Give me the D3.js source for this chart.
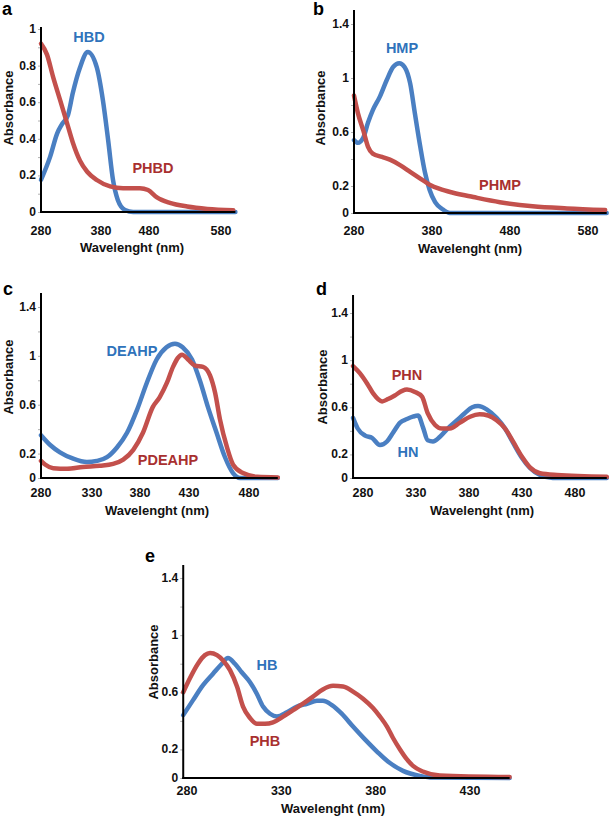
<!DOCTYPE html>
<html><head><meta charset="utf-8">
<script src="https://cdn.jsdelivr.net/npm/d3@7/dist/d3.min.js"></script>
<style>
body{margin:0;background:#fff;}
svg{display:block;font-family:"Liberation Sans",Arial,sans-serif;}
</style></head>
<body>
<svg id="chart" width="609" height="816"></svg>
<script>
// ---------- DATA ----------
// Panel a
const hbdX  = [280,295,307,315,325,333,345,358,373,384,395,405,415,430,447,480,600];
const hbdY  = [0.175,0.30,0.43,0.48,0.53,0.65,0.79,0.874,0.79,0.61,0.39,0.175,0.066,0.011,0,0,0];
const phbdX = [280,290,300,312,323,333,345,357,373,399,426,461,478,491,509,533,561,597];
const phbdY = [0.92,0.86,0.74,0.61,0.49,0.38,0.28,0.22,0.175,0.14,0.13,0.13,0.12,0.08,0.05,0.03,0.017,0.01];
// Panel b
const hmpX  = [280,285,292,298,304,313,322,330,338,345,352,358,365,371,377,384,393,403,500,604];
const hmpY  = [0.54,0.52,0.56,0.67,0.76,0.86,0.985,1.08,1.11,1.08,0.96,0.74,0.49,0.30,0.17,0.08,0.03,0,0,0];
const phmpX = [280,285,292,298,304,316,326,339,352,365,377,390,407,433,467,509,553,602];
const phmpY = [0.87,0.74,0.61,0.49,0.44,0.415,0.395,0.355,0.305,0.255,0.21,0.178,0.15,0.118,0.08,0.05,0.034,0.022];
// Panel c
const deahpX  = [280,289,298.6,311,325,335,345.6,356,366.5,377,387,397,407,415.7,423.5,432.5,439,445.8,453,460,466.7,472.5,504];
const deahpY  = [0.35,0.27,0.21,0.16,0.13,0.14,0.17,0.25,0.37,0.56,0.78,0.97,1.07,1.10,1.07,0.97,0.80,0.58,0.37,0.17,0.04,0,0];
const pdeahpX = [280,284,292,305.5,321,338,352,362.5,373,383,393,400,407.5,413.7,422.9,429,435,441.7,447.5,451.7,455.8,461.7,466.7,475,486.7,504];
const pdeahpY = [0.14,0.11,0.08,0.075,0.09,0.10,0.115,0.15,0.23,0.37,0.58,0.66,0.78,0.91,1.01,0.97,0.92,0.91,0.84,0.70,0.48,0.25,0.11,0.04,0.01,0.005];
// Panel d
const hnX  = [270.6,275,282,288.5,296,302.6,308,315,321.5,327,332,336.6,341,346,352.6,360,368.7,376,383,388.5,397,406,414,421.5,430,437.5,447,459,510];
const hnY  = [0.51,0.42,0.36,0.34,0.28,0.31,0.38,0.47,0.50,0.52,0.53,0.43,0.32,0.31,0.35,0.42,0.49,0.55,0.60,0.61,0.58,0.51,0.42,0.30,0.17,0.085,0.025,0,0];
const phnX = [270.6,277,284,289.4,298,303.6,310,317,321.5,329,335.7,341,348,354.5,362,371.5,381,390,398,406,414,421.5,430,437.5,447,463,510];
const phnY = [0.95,0.89,0.80,0.72,0.65,0.67,0.70,0.74,0.75,0.73,0.69,0.55,0.45,0.42,0.42,0.47,0.52,0.54,0.53,0.49,0.42,0.31,0.18,0.09,0.04,0.025,0.01];
// Panel e
const hbX  = [278,283.2,288.5,293.8,298.5,301.7,305.4,309,313.4,317,320.3,324,327.7,333,338.3,343.6,348.9,352,356.8,362,368,374.3,380.7,386.5,394.5,403.5,410.4,451];
const hbY  = [0.44,0.545,0.65,0.73,0.80,0.84,0.80,0.74,0.67,0.59,0.50,0.45,0.43,0.46,0.50,0.52,0.54,0.54,0.51,0.45,0.36,0.27,0.185,0.115,0.05,0.015,0.003,0];
const phbX = [278,281.6,285.8,289.5,292.2,295.9,299,302.8,306.5,309.7,313.4,317,321.3,325.6,330.9,336.2,341.5,346.8,352,357.4,362.7,368,373.3,378.6,382.3,386,389.2,392.9,396.6,399.8,405,414,451];
const phbY = [0.60,0.70,0.80,0.86,0.875,0.86,0.825,0.755,0.64,0.50,0.42,0.38,0.38,0.39,0.43,0.475,0.52,0.57,0.62,0.645,0.64,0.605,0.555,0.49,0.43,0.36,0.28,0.2,0.13,0.085,0.045,0.018,0.007];

// Tick labels
const xTicksA = [280,380,480,580];
const yTicksA = [0,0.2,0.4,0.6,0.8,1];
const xTicksB = [280,380,480,580];
const xTicksCD = [280,330,380,430,480];
const xTicksE = [280,330,380,430];
const yTicksBE = [0,0.2,0.6,1,1.4];

// ---------- LAYOUT ----------
const BLUE = "#4a7fc2", RED = "#c3504c", BLUE_T = "#2f73bb", RED_T = "#a8302f";
const svg = d3.select("#chart");

const panels = [
  {letter:"a", lx:2, ly:15,
   x:d3.scaleLinear().domain([280,380,480,580]).range([41,101,149,221]), xEnd:600, xStart:280,
   y:d3.scaleLinear().domain([0,1]).range([212,29]), yTop:27, yTicks:yTicksA, minor:0.1, yMax:1,
   xTicks:xTicksA, tickY:235, absX:8, absY:108, titleX:132, titleY:252,
   series:[{x:hbdX,y:hbdY,c:BLUE},{x:phbdX,y:phbdY,c:RED}],
   labels:[{t:"HBD",x:89,y:42,c:BLUE_T},{t:"PHBD",x:153,y:173,c:RED_T}]},
  {letter:"b", lx:313, ly:15,
   x:d3.scaleLinear().domain([280,580]).range([354,588]), xEnd:604, xStart:280,
   y:d3.scaleLinear().domain([0,1.4]).range([213,24]), yTop:10, yTicks:yTicksBE, minor:0.2, yMax:1.4,
   xTicks:xTicksB, tickY:235, absX:320, absY:108, titleX:470, titleY:253,
   series:[{x:hmpX,y:hmpY,c:BLUE},{x:phmpX,y:phmpY,c:RED}],
   labels:[{t:"HMP",x:402,y:53,c:BLUE_T},{t:"PHMP",x:500,y:190,c:RED_T}]},
  {letter:"c", lx:3, ly:295,
   x:d3.scaleLinear().domain([280,330,380,430,480]).range([41,92,140,189,249]), xEnd:504, xStart:280,
   y:d3.scaleLinear().domain([0,1.4]).range([478,307]), yTop:293, yTicks:yTicksBE, minor:0.2, yMax:1.4,
   xTicks:xTicksCD, tickY:497, absX:8, absY:377, titleX:157, titleY:515,
   series:[{x:deahpX,y:deahpY,c:BLUE},{x:pdeahpX,y:pdeahpY,c:RED}],
   labels:[{t:"DEAHP",x:132,y:356,c:BLUE_T},{t:"PDEAHP",x:168,y:465,c:RED_T}]},
  {letter:"d", lx:316, ly:295,
   x:d3.scaleLinear().domain([280,480]).range([363,575]), xEnd:510, xStart:270.6,
   y:d3.scaleLinear().domain([0,1.4]).range([478,313]), yTop:295, yTicks:yTicksBE, minor:0.2, yMax:1.4,
   xTicks:xTicksCD, tickY:497, absX:322, absY:387, titleX:482, titleY:515,
   series:[{x:hnX,y:hnY,c:BLUE},{x:phnX,y:phnY,c:RED}],
   labels:[{t:"PHN",x:407,y:380,c:RED_T},{t:"HN",x:408,y:457,c:BLUE_T}]},
  {letter:"e", lx:145, ly:562,
   x:d3.scaleLinear().domain([280,430]).range([187,470]), xEnd:451, xStart:278,
   y:d3.scaleLinear().domain([0,1.4]).range([778,578]), yTop:565, yTicks:yTicksBE, minor:0.2, yMax:1.4,
   xTicks:xTicksE, tickY:795, absX:153, absY:662, titleX:333, titleY:813,
   series:[{x:hbX,y:hbY,c:BLUE},{x:phbX,y:phbY,c:RED}],
   labels:[{t:"HB",x:267,y:670,c:BLUE_T},{t:"PHB",x:265,y:746,c:RED_T}]}
];

panels.forEach(p => {
  const g = svg.append("g");
  const x0 = p.x(p.xStart), x1 = p.x(p.xEnd), y0 = p.y(0);

  // small ticks on y axis
  const minorVals = d3.range(0, p.yMax + 1e-9, p.minor);
  const yAxis = d3.axisLeft(p.y).tickValues(minorVals).tickSize(3).tickFormat("");
  const ya = g.append("g").attr("transform", `translate(${x0},0)`).call(yAxis);
  ya.select(".domain").remove();
  ya.selectAll(".tick line").attr("stroke", "#b0b0b0").attr("stroke-width", 1);

  // y tick labels
  g.selectAll(".ylab").data(p.yTicks).join("text")
    .attr("x", x0 - 5).attr("y", d => p.y(d))
    .attr("text-anchor", "end").attr("dominant-baseline", "central")
    .attr("font-size", 12).attr("font-weight", "bold").attr("fill", "#111")
    .text(d => d3.format("~g")(d));

  // x tick labels
  g.selectAll(".xlab").data(p.xTicks).join("text")
    .attr("x", d => p.x(d)).attr("y", p.tickY)
    .attr("text-anchor", "middle")
    .attr("font-size", 12.5).attr("font-weight", "bold").attr("fill", "#111")
    .text(d => d);

  // series
  p.series.forEach(s => {
    const pts = s.x.map((v, i) => [v, s.y[i]]);
    g.append("path").datum(pts)
      .attr("fill", "none").attr("stroke", s.c).attr("stroke-width", 4.5)
      .attr("stroke-linecap", "round").attr("stroke-linejoin", "round")
      .attr("d", d3.line().x(d => p.x(d[0])).y(d => p.y(d[1])).curve(d3.curveMonotoneX));
  });

  // axes lines
  g.append("line").attr("x1", x0).attr("x2", x0).attr("y1", p.yTop).attr("y2", y0 + 1)
    .attr("stroke", "#000").attr("stroke-width", 2);
  g.append("line").attr("x1", x0 - 1).attr("x2", x1).attr("y1", y0).attr("y2", y0)
    .attr("stroke", "#000").attr("stroke-width", 2);

  // series labels
  p.labels.forEach(l => {
    g.append("text").attr("x", l.x).attr("y", l.y).attr("text-anchor", "middle")
      .attr("font-size", 14.5).attr("font-weight", "bold").attr("fill", l.c).text(l.t);
  });

  // axis titles
  g.append("text").attr("transform", `translate(${p.absX},${p.absY}) rotate(-90)`)
    .attr("text-anchor", "middle").attr("dominant-baseline", "central")
    .attr("font-size", 13).attr("font-weight", "bold").attr("fill", "#111").text("Absorbance");
  g.append("text").attr("x", p.titleX).attr("y", p.titleY).attr("text-anchor", "middle")
    .attr("font-size", 13).attr("font-weight", "bold").attr("fill", "#111").text("Wavelenght (nm)");

  // panel letter
  g.append("text").attr("x", p.lx).attr("y", p.ly)
    .attr("font-size", 18).attr("font-weight", "bold").attr("fill", "#000").text(p.letter);
});
</script>
</body></html>
